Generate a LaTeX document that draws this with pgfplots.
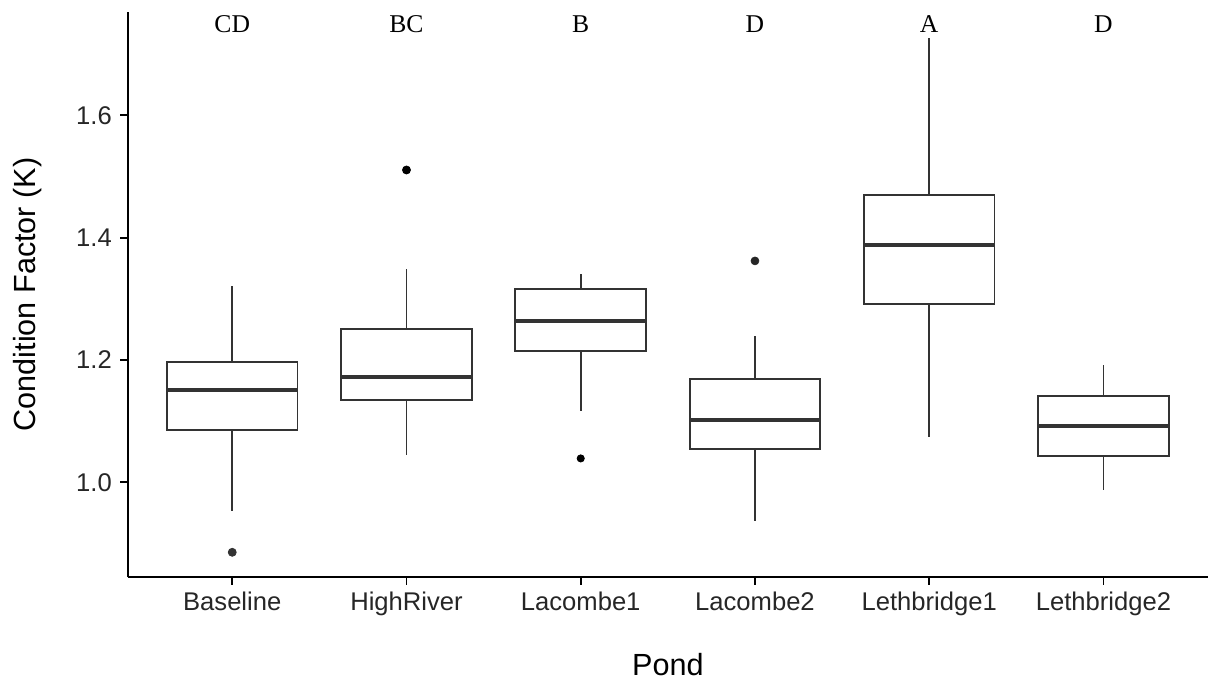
\documentclass[border=0pt]{standalone}
\usepackage{fontspec}
\setmainfont{Liberation Sans}
\newfontfamily\letterfont{Liberation Serif}
\usepackage{pgfplots}
\pgfplotsset{compat=1.18}
\usepgfplotslibrary{statistics}
\definecolor{boxgray}{HTML}{333333}
\tikzset{group letter/.style={font=\letterfont\fontsize{12.8pt}{14pt}\selectfont, inner sep=0pt, anchor=center}}

\begin{document}
\begin{tikzpicture}
\useasboundingbox (-63.85pt,-50.85pt) rectangle (541.15pt,288.65pt);
\begin{axis}[
  at={(0,0)}, anchor=south west,
  scale only axis,
  width=540.15pt, height=282.8pt,
  xmin=0.4, xmax=6.6,
  ymin=0.8446, ymax=1.7696,
  axis x line=bottom, axis y line=left,
  axis line style={-, line width=0.9pt, black},
  tick style={line width=0.9pt, black},
  tick align=outside,
  major tick length=3.65pt,
  xtick={1,2,3,4,5,6},
  xticklabels={Baseline,HighRiver,Lacombe1,Lacombe2,Lethbridge1,Lethbridge2},
  ytick={1.0,1.2,1.4,1.6},
  /pgf/number format/fixed,
  /pgf/number format/fixed zerofill,
  /pgf/number format/precision=1,
  /pgf/number format/assume math mode=true,
  ticklabel style={font=\fontsize{12.8pt}{14pt}\selectfont, text=black!85},
  xticklabel style={anchor=north, inner sep=0pt, yshift=-3.6pt},
  yticklabel style={anchor=east, inner sep=0pt, xshift=-4.1pt},
  xlabel={Pond},
  ylabel={Condition Factor (K)},
  label style={font=\fontsize{15.3pt}{17pt}\selectfont},
  xlabel style={at={(axis description cs:0.5,0)}, anchor=north, inner sep=0pt, yshift=-38pt},
  ylabel style={at={(axis description cs:0,0.5)}, anchor=center, inner sep=0pt, rotate=0, yshift=49.85pt},
  clip=false,
  boxplot/draw direction=y,
  boxplot/box extend=0.75,
  boxplot/whisker extend=0,
  boxplot/every box/.style={draw=boxgray, fill=white, line width=0.9pt},
  boxplot/every whisker/.style={draw=boxgray, line width=0.8pt},
  boxplot/every median/.style={draw=boxgray, line width=1.9pt},
  cycle list={{boxgray, mark=*, mark size=1.8pt, mark options={fill=black!85, draw=black!85, line width=0.3pt}}},
]
% Baseline
\addplot+[boxplot prepared={draw position=1, lower whisker=0.953, lower quartile=1.086,
  median=1.151, upper quartile=1.197, upper whisker=1.321}] table[row sep=\\, y index=0] {y\\ 0.8855\\};
% HighRiver
\addplot+[boxplot prepared={draw position=2, lower whisker=1.0446, lower quartile=1.134,
  median=1.1727, upper quartile=1.250, upper whisker=1.348}] table[row sep=\\, y index=0] {y\\ 1.5107\\};
% Lacombe1
\addplot+[boxplot prepared={draw position=3, lower whisker=1.117, lower quartile=1.2152,
  median=1.2643, upper quartile=1.3156, upper whisker=1.3406}] table[row sep=\\, y index=0] {y\\ 1.039\\};
% Lacombe2
\addplot+[boxplot prepared={draw position=4, lower whisker=0.937, lower quartile=1.0545,
  median=1.1014, upper quartile=1.1695, upper whisker=1.239}] table[row sep=\\, y index=0] {y\\ 1.362\\};
% Lethbridge1
\addplot+[boxplot prepared={draw position=5, lower whisker=1.0736, lower quartile=1.292,
  median=1.3876, upper quartile=1.470, upper whisker=1.727}] coordinates {};
% Lethbridge2
\addplot+[boxplot prepared={draw position=6, lower whisker=0.988, lower quartile=1.0435,
  median=1.0926, upper quartile=1.1417, upper whisker=1.1918}] coordinates {};

% significance groups
\node[group letter] at (axis cs:1,1.7498) {CD};
\node[group letter] at (axis cs:2,1.7498) {BC};
\node[group letter] at (axis cs:3,1.7498) {B};
\node[group letter] at (axis cs:4,1.7498) {D};
\node[group letter] at (axis cs:5,1.7498) {A};
\node[group letter] at (axis cs:6,1.7498) {D};
\end{axis}
\end{tikzpicture}
\end{document}
